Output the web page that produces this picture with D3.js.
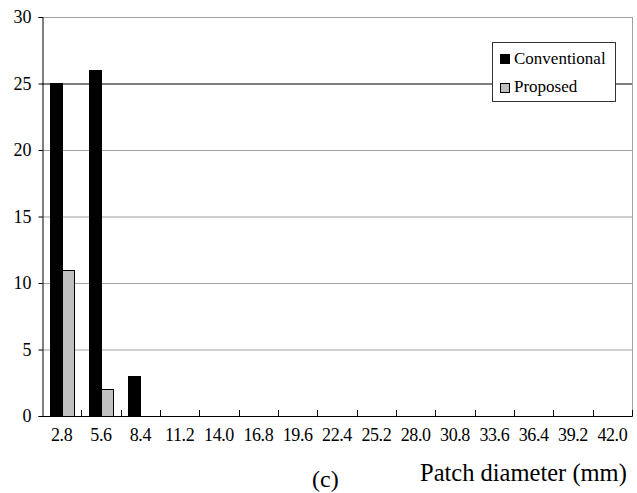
<!DOCTYPE html>
<html><head><meta charset="utf-8">
<script src="https://cdn.jsdelivr.net/npm/d3@7"></script>
<style>body{margin:0;background:#fff}svg{display:block}</style>
</head><body><svg id="c" width="637" height="493"></svg>
<script>
const categories = ["2.8","5.6","8.4","11.2","14.0","16.8","19.6","22.4","25.2","28.0","30.8","33.6","36.4","39.2","42.0"];
const conventional = [25,26,3,0,0,0,0,0,0,0,0,0,0,0,0];
const proposed = [11,2,0,0,0,0,0,0,0,0,0,0,0,0,0];
const yTicks = [0,5,10,15,20,25,30];
const seriesNames = ["Conventional","Proposed"];
const seriesColors = ["#000000","#c0c0c0"];
const FONT = "'Liberation Serif', 'DejaVu Serif', serif";

const svg = d3.select("#c").attr("font-family", FONT);
const L=42, R=632, T=17, B=416;
const x = d3.scaleBand().domain(categories).range([L,R]).padding(0);
const y = d3.scaleLinear().domain([0,30]).range([B,T]);
const bw = 12;

svg.selectAll("line.grid").data(yTicks.filter(d=>d>0)).enter().append("line")
  .attr("x1",L).attr("x2",R).attr("y1",d=>y(d)+0.5).attr("y2",d=>y(d)+0.5)
  .attr("stroke",d=>d===25?"#000":"#a0a0a0").attr("stroke-width",1);
svg.append("line").attr("x1",R+0.5).attr("x2",R+0.5).attr("y1",T).attr("y2",B).attr("stroke","#a0a0a0");

const data = categories.map((c,i)=>({c,v:[conventional[i],proposed[i]]}));
seriesNames.forEach((s,si)=>{
  svg.selectAll("rect.s"+si).data(data.filter(d=>d.v[si]>0)).enter().append("rect")
    .attr("x",d=>Math.round(x(d.c)+x.bandwidth()/2-bw+si*bw)+0.5)
    .attr("y",d=>Math.round(y(d.v[si]))+0.5).attr("width",bw).attr("height",d=>B-Math.round(y(d.v[si])))
    .attr("fill",seriesColors[si]).attr("stroke","#000").attr("stroke-width",1);
});

const ya = svg.append("g").attr("transform",`translate(${L+0.5},0)`)
  .call(d3.axisLeft(y).tickValues(yTicks).tickSize(4).tickPadding(7).tickFormat(d3.format("d")));
ya.attr("font-family", FONT).attr("font-size", 18);
ya.select(".domain").attr("stroke","#000");
ya.selectAll("text").attr("fill","#000");
const xa = svg.append("g").attr("transform",`translate(0,${B})`)
  .call(d3.axisBottom(x).tickSize(0).tickPadding(12));
xa.attr("font-family", FONT).attr("font-size", 18);
xa.select(".domain").attr("stroke","#000").attr("d",`M${L},0.5H${R+0.5}V-6`);
xa.selectAll("text").attr("fill","#000").attr("letter-spacing",-0.4);
svg.selectAll("line.bt").data(categories.slice(1)).enter().append("line")
  .attr("x1",d=>Math.round(x(d))+0.5).attr("x2",d=>Math.round(x(d))+0.5).attr("y1",B).attr("y2",B-6).attr("stroke","#000");

const lg = svg.append("g");
lg.append("rect").attr("x",492.5).attr("y",42.5).attr("width",123).attr("height",59).attr("fill","#fff").attr("stroke","#333");
seriesNames.forEach((s,i)=>{
  lg.append("rect").attr("x",500.5).attr("y",54.5+i*29).attr("width",9).attr("height",9).attr("fill",seriesColors[i]).attr("stroke","#000");
  lg.append("text").attr("x",514).attr("y",64+i*28).attr("font-size",17).text(s);
});

svg.append("text").attr("x",420).attr("y",481).attr("font-size",24.5).text("Patch diameter (mm)");
svg.append("text").attr("x",312).attr("y",487).attr("font-size",24).text("(c)");
</script></body></html>
